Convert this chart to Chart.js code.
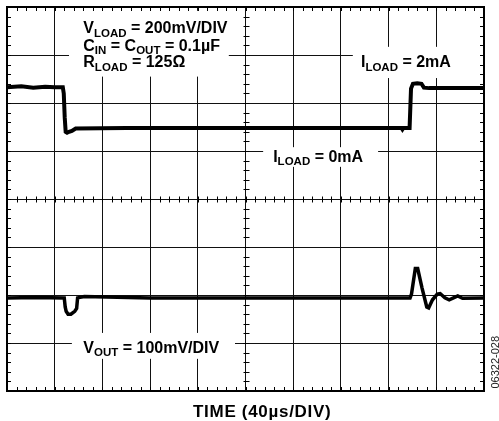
<!DOCTYPE html>
<html>
<head>
<meta charset="utf-8">
<script src="https://cdn.jsdelivr.net/npm/chart.js@4.4.1/dist/chart.umd.min.js"></script>
<style>
  body { margin: 0; background: #fff; }
  canvas { display: block; }
</style>
</head>
<body>
<canvas id="scope" width="499" height="421"></canvas>
<script>
// Escala em divisões: 10 na horizontal (40µs/DIV), 8 na vertical
const xDivs = 10
const yDivs = 8

// Traço superior: V_LOAD (200mV/DIV)
const loadTime = [0, 0.3, 0.55, 0.8, 1.0, 1.17, 1.19, 1.21, 1.23, 1.26, 1.3, 1.36, 1.44, 2.5, 4, 6, 8.27, 8.29, 8.31, 8.44, 8.47, 8.51, 8.6, 8.69, 8.74, 8.85, 9.4, 10]
const loadLevel = [6.33, 6.35, 6.32, 6.34, 6.33, 6.33, 6.2, 5.7, 5.4, 5.38, 5.4, 5.42, 5.47, 5.48, 5.48, 5.48, 5.48, 5.45, 5.48, 5.48, 6.3, 6.4, 6.41, 6.4, 6.32, 6.31, 6.31, 6.31]

// Traço inferior: V_OUT (100mV/DIV)
const outTime = [0, 0.6, 1.2, 1.22, 1.24, 1.28, 1.34, 1.42, 1.46, 1.48, 1.62, 3, 5, 7, 8.45, 8.48, 8.56, 8.61, 8.7, 8.8, 8.84, 8.92, 9.02, 9.08, 9.18, 9.27, 9.36, 9.45, 9.55, 10]
const outLevel = [1.94, 1.95, 1.94, 1.75, 1.66, 1.6, 1.6, 1.66, 1.72, 1.94, 1.97, 1.94, 1.94, 1.94, 1.94, 2.02, 2.55, 2.55, 2.15, 1.75, 1.73, 1.9, 2.02, 2.03, 1.94, 1.9, 1.94, 1.98, 1.93, 1.94]

// Legendas dentro da tela (posição em divisões, caixa branca que corta a grade)
const labels = [
  { x: 1.6, y: 7.45, parts: [["V", 0], ["LOAD", 1], [" = 200mV/DIV", 0]] },
  { x: 1.6, y: 7.09, parts: [["C", 0], ["IN", 1], [" = C", 0], ["OUT", 1], [" = 0.1µF", 0]] },
  { x: 1.6, y: 6.74, parts: [["R", 0], ["LOAD", 1], [" = 125Ω", 0]] },
  { x: 7.42, y: 6.74, parts: [["I", 0], ["LOAD", 1], [" = 2mA", 0]] },
  { x: 5.58, y: 4.78, parts: [["I", 0], ["LOAD", 1], [" = 0mA", 0]] },
  { x: 1.6, y: 0.80, parts: [["V", 0], ["OUT", 1], [" = 100mV/DIV", 0]] },
]
const boxes = [
  [1.30, 6.55, 4.65, 7.92],
  [7.25, 6.52, 9.92, 7.17],
  [5.37, 4.67, 7.78, 5.08],
  [1.36, 0.67, 4.78, 1.21],
]

const axisTitle = "TIME (40µs/DIV)"
const partNumber = "06322-028"

const FONT = "'Liberation Sans', Arial, sans-serif"

function toPoints(xs, ys) {
  return xs.map((x, i) => ({ x: x, y: ys[i] }))
}

// Caixas brancas, moldura, marcas menores e textos
const graticule = {
  id: "graticule",
  beforeDatasetsDraw(chart) {
    const { ctx, chartArea: a, scales: { x, y } } = chart
    ctx.save()
    ctx.fillStyle = "#fff"
    boxes.forEach((b) => {
      const x0 = x.getPixelForValue(b[0])
      const x1 = x.getPixelForValue(b[2])
      const y0 = y.getPixelForValue(b[3])
      const y1 = y.getPixelForValue(b[1])
      ctx.fillRect(x0, y0, x1 - x0, y1 - y0)
    })

    // moldura
    ctx.strokeStyle = "#000"
    ctx.lineWidth = 2
    ctx.strokeRect(Math.round(a.left), Math.round(a.top), Math.round(a.right - a.left), Math.round(a.bottom - a.top))

    ctx.lineWidth = 1
    ctx.beginPath()
    const cy = Math.round(y.getPixelForValue(yDivs / 2)) + 0.5
    const cx = Math.round(x.getPixelForValue(xDivs / 2)) + 0.5
    for (let i = 1; i < xDivs * 5; i++) {
      const px = Math.round(x.getPixelForValue(i / 5)) + 0.5
      ctx.moveTo(px, a.top); ctx.lineTo(px, a.top + 4)
      ctx.moveTo(px, a.bottom); ctx.lineTo(px, a.bottom - 4)
      ctx.moveTo(px, cy - 3); ctx.lineTo(px, cy + 3)
    }
    for (let i = 1; i < yDivs * 5; i++) {
      const py = Math.round(y.getPixelForValue(i / 5)) + 0.5
      ctx.moveTo(a.left, py); ctx.lineTo(a.left + 4, py)
      ctx.moveTo(a.right, py); ctx.lineTo(a.right - 4, py)
      ctx.moveTo(cx - 3, py); ctx.lineTo(cx + 3, py)
    }
    ctx.stroke()
    ctx.restore()
  },
  afterDraw(chart) {
    const { ctx, chartArea: a, scales: { x, y } } = chart
    ctx.save()
    ctx.fillStyle = "#000"
    ctx.textBaseline = "alphabetic"
    labels.forEach((l) => {
      let px = x.getPixelForValue(l.x)
      const py = y.getPixelForValue(l.y)
      l.parts.forEach(([txt, sub]) => {
        ctx.font = sub ? "bold 11.5px " + FONT : "bold 16px " + FONT
        ctx.fillText(txt, px, sub ? py + 3.5 : py)
        px += ctx.measureText(txt).width
      })
    })

    ctx.font = "bold 17px " + FONT
    ctx.letterSpacing = "0.7px"
    ctx.textAlign = "center"
    ctx.fillText(axisTitle, x.getPixelForValue(5.35), a.bottom + 26)
    ctx.letterSpacing = "0px"

    ctx.font = "11px " + FONT
    ctx.fillStyle = "#222"
    ctx.translate(a.right + 12, y.getPixelForValue(0.6))
    ctx.rotate(-Math.PI / 2)
    ctx.textBaseline = "middle"
    ctx.fillText(partNumber, 0, 0)
    ctx.restore()
  },
}

new Chart(document.getElementById("scope"), {
  type: "line",
  data: {
    datasets: [
      {
        label: "V_LOAD",
        data: toPoints(loadTime, loadLevel),
        borderColor: "#000",
        borderWidth: 4,
        pointRadius: 0,
        tension: 0,
      },
      {
        label: "V_OUT",
        data: toPoints(outTime, outLevel),
        borderColor: "#000",
        borderWidth: 3.5,
        pointRadius: 0,
        tension: 0,
      },
    ],
  },
  options: {
    responsive: false,
    animation: false,
    layout: { padding: { left: 7, right: 15, top: 7, bottom: 30 } },
    plugins: { legend: { display: false }, tooltip: { enabled: false } },
    scales: {
      x: {
        type: "linear",
        min: 0,
        max: xDivs,
        ticks: { display: false, stepSize: 1 },
        grid: { color: "#111", lineWidth: 1, drawTicks: false },
        border: { color: "#000", width: 2 },
      },
      y: {
        type: "linear",
        min: 0,
        max: yDivs,
        ticks: { display: false, stepSize: 1 },
        grid: { color: "#111", lineWidth: 1, drawTicks: false },
        border: { color: "#000", width: 2 },
      },
    },
  },
  plugins: [graticule],
})
</script>
</body>
</html>
